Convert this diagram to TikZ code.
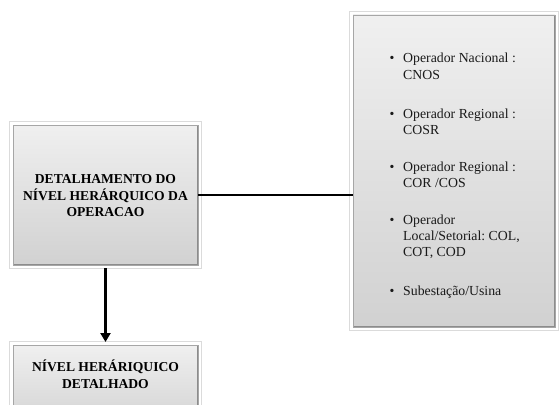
\documentclass[tikz,border=0pt]{standalone}
\usepackage{fontspec}
\setmainfont{Liberation Serif}
\usetikzlibrary{arrows.meta}
\begin{document}
\begin{tikzpicture}[x=1pt,y=-1pt,
  panel/.style={
    preaction={draw=black!14, line width=7.5pt},
    preaction={draw=white, line width=6pt},
    top color=black!6, bottom color=black!18,
    draw=black!35, line width=0.8pt,
    inner sep=0pt, outer sep=0pt,
    path picture={
      \draw[black!45, line width=3pt]
        (path picture bounding box.south west) -- (path picture bounding box.south east)
        -- (path picture bounding box.north east);
    }},
  boxlabel/.style={font=\bfseries\fontsize{13.6}{16.5}\selectfont, text=black,
    align=center, inner sep=0pt},
  itemline/.style={font=\fontsize{13.8}{16}\selectfont, text=black!90,
    anchor=base west, inner sep=0pt},
  bulletmark/.style={font=\fontsize{13.8}{16}\selectfont, text=black!90,
    anchor=base, inner sep=0pt},
  link/.style={line width=1.6pt, black},
  flow/.style={line width=2.6pt, black, -{Triangle[length=9pt,width=10pt]}}
]
\useasboundingbox (0,0) rectangle (559,404);

% panels
\node[panel, minimum width=185pt, minimum height=140pt] (detail) at (105.5,195) {};
\node[panel, minimum width=202pt, minimum height=312pt] (ops) at (454,171) {};
\node[panel, minimum width=185pt, minimum height=85pt] (level) at (105.5,387.5) {};

% panel captions
\node[boxlabel] (detailtxt) at (105.5,196)
  {DETALHAMENTO DO\\NÍVEL HERÁRQUICO DA\\OPERACAO};
\node[boxlabel] (leveltxt) at (105.5,374)
  {NÍVEL HERÁRIQUICO\\DETALHADO};

% operator list
\node[bulletmark] (b1) at (392,63) {\textbullet};
\node[itemline] (i1a) at (403,63) {Operador Nacional :};
\node[itemline] (i1b) at (403,79) {CNOS};

\node[bulletmark] (b2) at (392,118) {\textbullet};
\node[itemline] (i2a) at (403,118) {Operador Regional :};
\node[itemline] (i2b) at (403,134) {COSR};

\node[bulletmark] (b3) at (392,171) {\textbullet};
\node[itemline] (i3a) at (403,171) {Operador Regional :};
\node[itemline] (i3b) at (403,187) {COR /COS};

\node[bulletmark] (b4) at (392,224) {\textbullet};
\node[itemline] (i4a) at (403,224) {Operador};
\node[itemline] (i4b) at (403,240) {Local/Setorial:\ COL,};
\node[itemline] (i4c) at (403,256) {COT, COD};

\node[bulletmark] (b5) at (392,295) {\textbullet};
\node[itemline] (i5a) at (403,295) {Subestação/Usina};

% connectors
\draw[link] (detail.east) -- (detail.east -| ops.west);
\draw[flow, shorten <=3pt, shorten >=3pt] (detail.south) -- (level.north);
\end{tikzpicture}
\end{document}
